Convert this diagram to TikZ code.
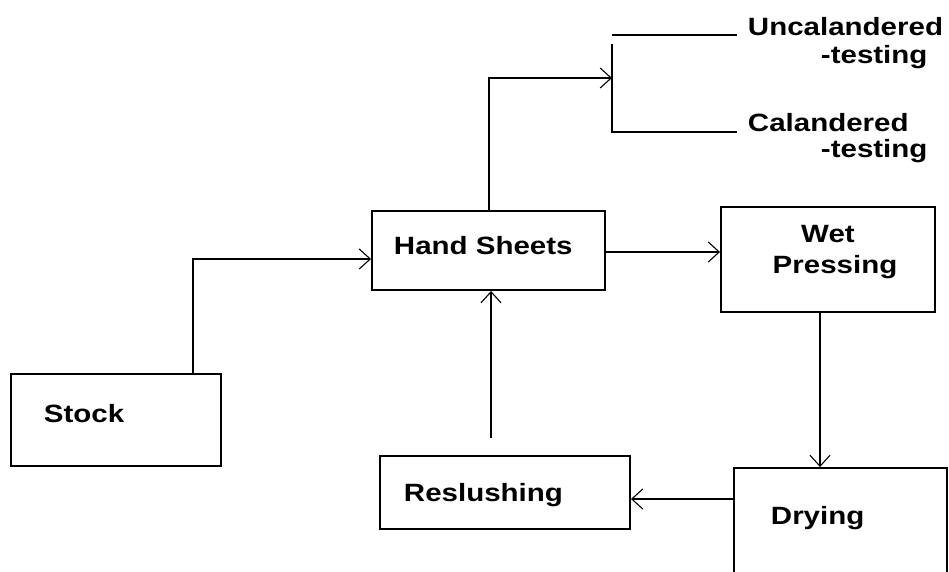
\documentclass[tikz,border=0pt]{standalone}
\usepackage{fontspec}
\newfontfamily\labfont[FakeStretch=1.18]{Liberation Sans}
\usetikzlibrary{arrows.meta}
\begin{document}
\begin{tikzpicture}[x=1pt,y=-1pt,line width=1.9pt,
  box/.style={draw,rectangle,inner sep=0pt},
  lab/.style={font=\labfont\bfseries\fontsize{25}{30}\selectfont,inner sep=0pt,anchor=base west},
  arr/.style={-{Straight Barb[length=11pt,width=20pt,line width=1.1pt]}}]
\clip (0,0) rectangle (949,571);
\fill[white] (0,0) rectangle (949,571);
% boxes
\node[box,minimum width=210pt,minimum height=92pt] (stock) at (116,420) {};
\node[box,minimum width=233pt,minimum height=79pt] (hand) at (488.5,250.5) {};
\node[box,minimum width=214pt,minimum height=105pt] (wet) at (828,259.5) {};
\node[box,minimum width=250pt,minimum height=73pt] (resl) at (505,492.5) {};
\node[box,minimum width=213pt,minimum height=152pt] (dry) at (840.5,544) {};
% texts
\node[lab] (tstock) at (43,422) {Stock};
\node[lab] (thand) at (393,254) {Hand Sheets};
\node[lab,anchor=base] (twet) at (828,242) {Wet};
\node[lab,anchor=base] (twet2) at (835,273) {Pressing};
\node[lab] (tresl) at (403,501) {Reslushing};
\node[lab] (tdry) at (770,524) {Drying};
\node[lab] (tunc) at (747,35) {Uncalandered};
\node[lab] (tunc2) at (820,63) {-testing};
\node[lab] (tcal) at (747,131) {Calandered};
\node[lab] (tcal2) at (820,157) {-testing};
% helper coordinates
\coordinate (sk) at (193,259);
\coordinate (hb) at (489,78);
\coordinate (bt) at (612,44);
\coordinate (bb) at (612,132);
\coordinate (be) at (737,132);
\coordinate (ua) at (612,35);
\coordinate (ub) at (737,35);
\coordinate (hw) at (0,252);
\coordinate (wd) at (820,0);
\coordinate (dr) at (0,499);
\coordinate (rh) at (491,438);
% connectors
\draw[arr] (stock.north -| sk) |- (hand.west |- sk);
\draw[arr] (hand.north -| hb) |- (bt |- hb);
\draw (bt) -- (bb) -- (be);
\draw (ua) -- (ub);
\draw[arr] (hand.east |- hw) -- (wet.west |- hw);
\draw[arr] (wet.south -| wd) -- (dry.north -| wd);
\draw[arr] (dry.west |- dr) -- (resl.east |- dr);
\draw[arr] (rh) -- (hand.south -| rh);
\end{tikzpicture}
\end{document}
